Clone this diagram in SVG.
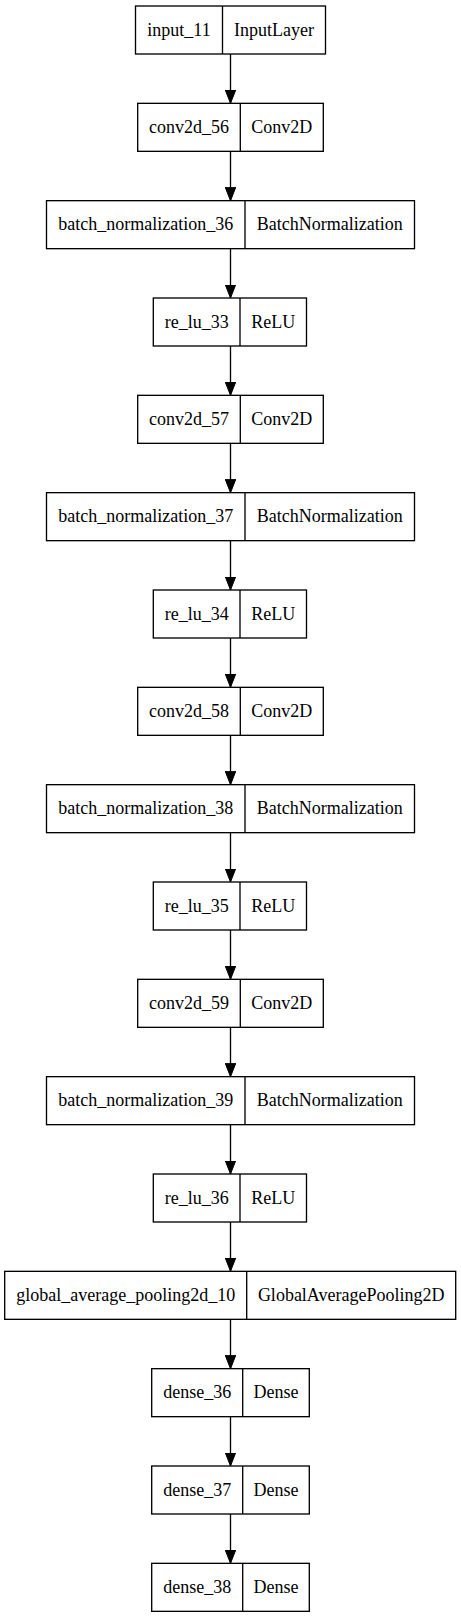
<svg xmlns="http://www.w3.org/2000/svg" width="461" height="1617" viewBox="0 0 461 1617">
<style>
.b{fill:#fff;stroke:#000;stroke-width:1.33}
.d{stroke:#000;stroke-width:1.33}
.t{font-family:"Liberation Serif","Times New Roman",serif;font-size:18px;fill:#000;text-anchor:middle}
.e{stroke:#000;stroke-width:1.33;fill:none;marker-end:url(#ah)}
</style>
<defs>
<marker id="ah" viewBox="0 0 13.5 10.6" refX="13.5" refY="5.3" markerWidth="13.5" markerHeight="10.6" markerUnits="userSpaceOnUse" orient="auto">
<path d="M0,0 L13.5,5.3 L0,10.6 z" fill="#000" stroke="#000" stroke-width="1"/>
</marker>
</defs>
<rect width="461" height="1617" fill="#fff"/>
<g id="connectors">
<line class="e" x1="230.5" y1="54" x2="230.5" y2="103.33"/>
<line class="e" x1="230.5" y1="151.33" x2="230.5" y2="200.67"/>
<line class="e" x1="230.5" y1="248.67" x2="230.5" y2="298"/>
<line class="e" x1="230.5" y1="346" x2="230.5" y2="395.33"/>
<line class="e" x1="230.5" y1="443.33" x2="230.5" y2="492.67"/>
<line class="e" x1="230.5" y1="540.67" x2="230.5" y2="590"/>
<line class="e" x1="230.5" y1="638" x2="230.5" y2="687.33"/>
<line class="e" x1="230.5" y1="735.33" x2="230.5" y2="784.67"/>
<line class="e" x1="230.5" y1="832.67" x2="230.5" y2="882"/>
<line class="e" x1="230.5" y1="930" x2="230.5" y2="979.33"/>
<line class="e" x1="230.5" y1="1027.33" x2="230.5" y2="1076.67"/>
<line class="e" x1="230.5" y1="1124.67" x2="230.5" y2="1174"/>
<line class="e" x1="230.5" y1="1222" x2="230.5" y2="1271.33"/>
<line class="e" x1="230.5" y1="1319.33" x2="230.5" y2="1368.67"/>
<line class="e" x1="230.5" y1="1416.67" x2="230.5" y2="1466"/>
<line class="e" x1="230.5" y1="1514" x2="230.5" y2="1563.33"/>
</g>
<g id="input_11"><rect class="b" x="135.5" y="6" width="190" height="48"/><line class="d" x1="222.5" y1="6" x2="222.5" y2="54"/><text class="t" x="179" y="35.5">input_11</text><text class="t" x="274" y="35.5">InputLayer</text></g>
<g id="conv2d_56"><rect class="b" x="137.7" y="103.33" width="185.6" height="48"/><line class="d" x1="240.3" y1="103.33" x2="240.3" y2="151.33"/><text class="t" x="189" y="132.83">conv2d_56</text><text class="t" x="281.8" y="132.83">Conv2D</text></g>
<g id="batch_normalization_36"><rect class="b" x="46.5" y="200.67" width="368" height="48"/><line class="d" x1="245" y1="200.67" x2="245" y2="248.67"/><text class="t" x="145.75" y="230.17">batch_normalization_36</text><text class="t" x="329.75" y="230.17">BatchNormalization</text></g>
<g id="re_lu_33"><rect class="b" x="153.3" y="298" width="153.2" height="48"/><line class="d" x1="240" y1="298" x2="240" y2="346"/><text class="t" x="196.7" y="327.5">re_lu_33</text><text class="t" x="273.2" y="327.5">ReLU</text></g>
<g id="conv2d_57"><rect class="b" x="137.7" y="395.33" width="185.6" height="48"/><line class="d" x1="240.3" y1="395.33" x2="240.3" y2="443.33"/><text class="t" x="189" y="424.83">conv2d_57</text><text class="t" x="281.8" y="424.83">Conv2D</text></g>
<g id="batch_normalization_37"><rect class="b" x="46.5" y="492.67" width="368" height="48"/><line class="d" x1="245" y1="492.67" x2="245" y2="540.67"/><text class="t" x="145.75" y="522.17">batch_normalization_37</text><text class="t" x="329.75" y="522.17">BatchNormalization</text></g>
<g id="re_lu_34"><rect class="b" x="153.3" y="590" width="153.2" height="48"/><line class="d" x1="240" y1="590" x2="240" y2="638"/><text class="t" x="196.7" y="619.5">re_lu_34</text><text class="t" x="273.2" y="619.5">ReLU</text></g>
<g id="conv2d_58"><rect class="b" x="137.7" y="687.33" width="185.6" height="48"/><line class="d" x1="240.3" y1="687.33" x2="240.3" y2="735.33"/><text class="t" x="189" y="716.83">conv2d_58</text><text class="t" x="281.8" y="716.83">Conv2D</text></g>
<g id="batch_normalization_38"><rect class="b" x="46.5" y="784.67" width="368" height="48"/><line class="d" x1="245" y1="784.67" x2="245" y2="832.67"/><text class="t" x="145.75" y="814.17">batch_normalization_38</text><text class="t" x="329.75" y="814.17">BatchNormalization</text></g>
<g id="re_lu_35"><rect class="b" x="153.3" y="882" width="153.2" height="48"/><line class="d" x1="240" y1="882" x2="240" y2="930"/><text class="t" x="196.7" y="911.5">re_lu_35</text><text class="t" x="273.2" y="911.5">ReLU</text></g>
<g id="conv2d_59"><rect class="b" x="137.7" y="979.33" width="185.6" height="48"/><line class="d" x1="240.3" y1="979.33" x2="240.3" y2="1027.33"/><text class="t" x="189" y="1008.83">conv2d_59</text><text class="t" x="281.8" y="1008.83">Conv2D</text></g>
<g id="batch_normalization_39"><rect class="b" x="46.5" y="1076.67" width="368" height="48"/><line class="d" x1="245" y1="1076.67" x2="245" y2="1124.67"/><text class="t" x="145.75" y="1106.17">batch_normalization_39</text><text class="t" x="329.75" y="1106.17">BatchNormalization</text></g>
<g id="re_lu_36"><rect class="b" x="153.3" y="1174" width="153.2" height="48"/><line class="d" x1="240" y1="1174" x2="240" y2="1222"/><text class="t" x="196.7" y="1203.5">re_lu_36</text><text class="t" x="273.2" y="1203.5">ReLU</text></g>
<g id="global_average_pooling2d_10"><rect class="b" x="4.7" y="1271.33" width="451" height="48"/><line class="d" x1="246.7" y1="1271.33" x2="246.7" y2="1319.33"/><text class="t" x="125.7" y="1300.83">global_average_pooling2d_10</text><text class="t" x="351.2" y="1300.83">GlobalAveragePooling2D</text></g>
<g id="dense_36"><rect class="b" x="151.7" y="1368.67" width="157.6" height="48"/><line class="d" x1="242.7" y1="1368.67" x2="242.7" y2="1416.67"/><text class="t" x="197.2" y="1398.17">dense_36</text><text class="t" x="276" y="1398.17">Dense</text></g>
<g id="dense_37"><rect class="b" x="151.7" y="1466" width="157.6" height="48"/><line class="d" x1="242.7" y1="1466" x2="242.7" y2="1514"/><text class="t" x="197.2" y="1495.5">dense_37</text><text class="t" x="276" y="1495.5">Dense</text></g>
<g id="dense_38"><rect class="b" x="151.7" y="1563.33" width="157.6" height="48"/><line class="d" x1="242.7" y1="1563.33" x2="242.7" y2="1611.33"/><text class="t" x="197.2" y="1592.83">dense_38</text><text class="t" x="276" y="1592.83">Dense</text></g>
</svg>
